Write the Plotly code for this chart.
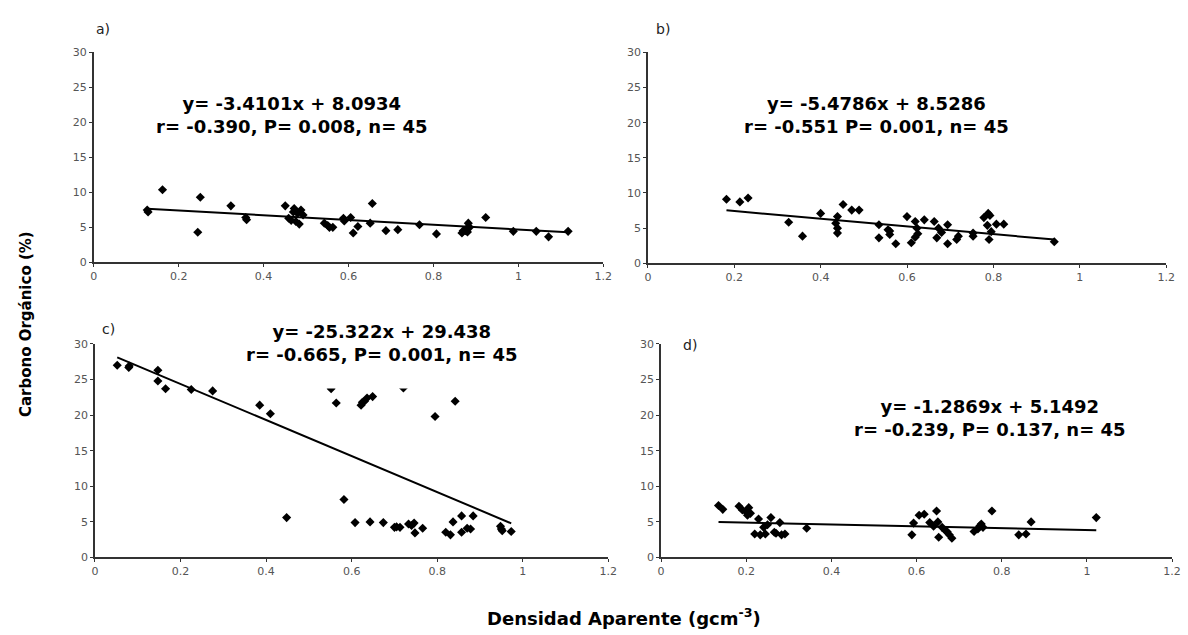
import plotly.graph_objects as go

# ---------------- data ----------------
x_ticks = [0, 0.2, 0.4, 0.6, 0.8, 1.0, 1.2]
x_tick_text = ["0", "0.2", "0.4", "0.6", "0.8", "1", "1.2"]
y_ticks = [0, 5, 10, 15, 20, 25, 30]
y_tick_text = ["0", "5", "10", "15", "20", "25", "30"]

panel_labels = ["a)", "b)", "c)", "d)"]

a_x = [0.126, 0.162, 0.251, 0.245, 0.323, 0.358, 0.451, 0.459, 0.472, 0.476,
       0.484, 0.488, 0.493, 0.465, 0.470, 0.543, 0.551, 0.563, 0.588, 0.605,
       0.611, 0.622, 0.651, 0.656, 0.688, 0.716, 0.767, 0.807, 0.867, 0.875,
       0.882, 0.885, 0.880, 0.923, 0.988, 1.042, 1.071, 1.117, 0.480, 0.555,
       0.590, 0.870, 0.878, 0.128, 0.360]
a_y = [7.47, 10.36, 9.3, 4.3, 8.07, 6.4, 8.07, 6.3, 7.7, 5.83,
       5.46, 7.47, 6.77, 6.0, 7.2, 5.6, 5.27, 5.0, 6.3, 6.4,
       4.2, 5.13, 5.6, 8.4, 4.53, 4.67, 5.37, 4.06, 4.2, 4.53,
       5.6, 5.0, 4.34, 6.4, 4.43, 4.43, 3.64, 4.43, 7.0, 5.0,
       5.9, 4.5, 4.8, 7.2, 6.1]

b_x = [0.182, 0.213, 0.232, 0.326, 0.358, 0.400, 0.439, 0.452, 0.439, 0.439,
       0.435, 0.472, 0.489, 0.535, 0.535, 0.556, 0.560, 0.574, 0.600, 0.610,
       0.619, 0.619, 0.623, 0.640, 0.663, 0.669, 0.673, 0.694, 0.694, 0.715,
       0.719, 0.753, 0.753, 0.778, 0.788, 0.790, 0.786, 0.807, 0.824, 0.941,
       0.792, 0.795, 0.625, 0.680, 0.560]
b_y = [9.1, 8.73, 9.29, 5.85, 3.86, 7.1, 6.64, 8.36, 5.0, 4.3,
       5.7, 7.57, 7.57, 5.48, 3.62, 4.78, 4.09, 2.79, 6.64, 2.93,
       3.72, 5.95, 5.0, 6.18, 5.95, 3.62, 5.0, 5.48, 2.79, 3.39,
       3.86, 3.86, 4.3, 6.5, 7.1, 3.39, 5.4, 5.57, 5.57, 3.07,
       6.8, 4.5, 4.2, 4.4, 4.6]

c_x = [0.052, 0.079, 0.147, 0.147, 0.165, 0.225, 0.275, 0.385, 0.410, 0.448,
       0.552, 0.564, 0.582, 0.608, 0.622, 0.630, 0.636, 0.649, 0.643, 0.674,
       0.700, 0.713, 0.721, 0.733, 0.746, 0.748, 0.766, 0.795, 0.820, 0.831,
       0.837, 0.842, 0.857, 0.857, 0.878, 0.884, 0.948, 0.952, 0.973, 0.625,
       0.705, 0.740, 0.870, 0.950, 0.080]
c_y = [27.0, 26.7, 26.3, 24.8, 23.7, 23.6, 23.4, 21.4, 20.2, 5.6,
       23.7, 21.7, 8.15, 4.9, 21.4, 21.95, 22.4, 22.6, 5.0, 4.9,
       4.23, 4.23, 23.8, 4.7, 4.83, 3.45, 4.1, 19.8, 3.54, 3.18,
       5.0, 21.95, 5.84, 3.54, 4.0, 5.84, 4.37, 3.77, 3.64, 21.8,
       4.3, 4.5, 4.1, 4.0, 26.9]

d_x = [0.135, 0.145, 0.183, 0.191, 0.206, 0.203, 0.200, 0.220, 0.233, 0.229,
       0.241, 0.245, 0.258, 0.266, 0.279, 0.283, 0.291, 0.342, 0.589, 0.593,
       0.606, 0.618, 0.631, 0.647, 0.650, 0.652, 0.660, 0.668, 0.677, 0.683,
       0.735, 0.744, 0.752, 0.756, 0.777, 0.840, 0.857, 0.869, 1.022, 0.250,
       0.270, 0.640, 0.672, 0.748, 0.210]
d_y = [7.3, 6.76, 7.2, 6.67, 7.0, 5.94, 6.4, 3.3, 3.18, 5.4,
       4.23, 3.3, 5.6, 3.54, 4.9, 3.18, 3.3, 4.1, 3.18, 4.83,
       5.94, 6.07, 4.9, 6.53, 5.0, 2.85, 4.23, 3.77, 3.18, 2.7,
       3.64, 4.0, 4.7, 4.23, 6.53, 3.18, 3.3, 5.0, 5.6, 4.6,
       3.4, 4.4, 3.6, 4.4, 6.2]

slopes = [-3.4101, -5.4786, -25.322, -1.2869]
intercepts = [8.0934, 8.5286, 29.438, 5.1492]
eq_line1 = ["y= -3.4101x + 8.0934", "y= -5.4786x + 8.5286",
            "y= -25.322x + 29.438", "y= -1.2869x + 5.1492"]
eq_line2 = ["r= -0.390, P= 0.008, n= 45", "r= -0.551 P= 0.001, n= 45",
            "r= -0.665, P= 0.001, n= 45", "r= -0.239, P= 0.137, n= 45"]

# ---------------- layout helpers ----------------
W, H = 1188, 635
# pixel boxes: (left, right, top, bottom)
boxes = [(90.7, 606, 47.3, 261.7),
         (651, 1175, 47.3, 262.7),
         (92, 611, 345, 563),
         (664.3, 1181, 345, 563)]
eq_pos = [(0.466, 21.05), (0.53, 21.05), (0.671, 30.15), (0.773, 19.65)]
lab_pos = [(0.0, 33.4), (0.015, 33.3), (0.011, 32.1), (0.047, 29.9)]


def to_paper(i, xv, yv):
    l, r, t, b = boxes[i]
    px = l + xv / 1.2 * (r - l)
    py = b - yv / 30.0 * (b - t)
    return px / W, 1 - py / H


xs = [a_x, b_x, c_x, d_x]
ys = [a_y, b_y, c_y, d_y]

fig = go.Figure()
layout = dict(
    width=W, height=H, margin=dict(l=0, r=0, t=0, b=0),
    paper_bgcolor="white", plot_bgcolor="white", showlegend=False,
)
annotations = []
shapes = []
tick_font = dict(family="DejaVu Sans", size=11, color="#555555")
eq_font = dict(family="DejaVu Sans", size=18, color="black")

for i in range(4):
    n = "" if i == 0 else str(i + 1)
    xa, ya = "x" + n, "y" + n
    l, r, t, b = boxes[i]
    layout["xaxis" + n] = dict(
        domain=[l / W, r / W], range=[0, 1.2], anchor=ya,
        tickvals=x_ticks, ticktext=x_tick_text, ticks="outside", ticklen=3,
        tickcolor="#333333", showline=True, linecolor="#333333", linewidth=1.5,
        showgrid=False, zeroline=False, tickfont=tick_font, fixedrange=True,
    )
    layout["yaxis" + n] = dict(
        domain=[1 - b / H, 1 - t / H], range=[0, 30], anchor=xa,
        tickvals=y_ticks, ticktext=y_tick_text, ticks="outside", ticklen=3,
        tickcolor="#333333", showline=True, linecolor="#333333", linewidth=1.5,
        showgrid=False, zeroline=False, tickfont=tick_font, fixedrange=True,
    )
    fig.add_trace(go.Scatter(
        x=xs[i], y=ys[i], mode="markers", xaxis=xa, yaxis=ya,
        marker=dict(symbol="diamond", size=7, color="black"),
        cliponaxis=False,
    ))
    x0, x1 = min(xs[i]), max(xs[i])
    fig.add_trace(go.Scatter(
        x=[x0, x1], y=[slopes[i] * x0 + intercepts[i], slopes[i] * x1 + intercepts[i]],
        mode="lines", xaxis=xa, yaxis=ya, line=dict(color="black", width=2),
        cliponaxis=False,
    ))
    ex, ey = to_paper(i, *eq_pos[i])
    annotations.append(dict(
        x=ex, y=ey, xref="paper", yref="paper",
        text="<b>" + eq_line1[i] + "</b><br><b>" + eq_line2[i] + "</b>",
        showarrow=False, font=eq_font, align="center", xanchor="center", yanchor="middle",
    ))
    lx, ly = to_paper(i, *lab_pos[i])
    annotations.append(dict(
        x=lx, y=ly, xref="paper", yref="paper", text=panel_labels[i],
        showarrow=False, font=dict(family="DejaVu Sans", size=14, color="#222222"),
        xanchor="left", yanchor="middle",
    ))

# white box of the equation in panel c hides the top of two points
shapes.append(dict(type="rect", xref="x3", yref="y3", x0=0.45, x1=0.9, y0=23.75, y1=27.5,
                   fillcolor="white", line=dict(width=0), layer="above"))

annotations.append(dict(
    x=23 / W, y=1 - 325 / H, xref="paper", yref="paper",
    text="<b>Carbono Orgánico (%)</b>", textangle=-90, showarrow=False,
    font=dict(family="DejaVu Sans", size=15, color="black"),
    xanchor="center", yanchor="middle",
))
annotations.append(dict(
    x=627 / W, y=1 - 624 / H, xref="paper", yref="paper",
    text="<b>Densidad Aparente (gcm<sup>-3</sup>)</b>", showarrow=False,
    font=dict(family="DejaVu Sans", size=18, color="black"),
    xanchor="center", yanchor="middle",
))

layout["annotations"] = annotations
layout["shapes"] = shapes
fig.update_layout(**layout)

fig.write_html("out.html", config={"displayModeBar": False},
               post_script="document.body.style.margin='0';document.body.style.overflow='hidden';")
